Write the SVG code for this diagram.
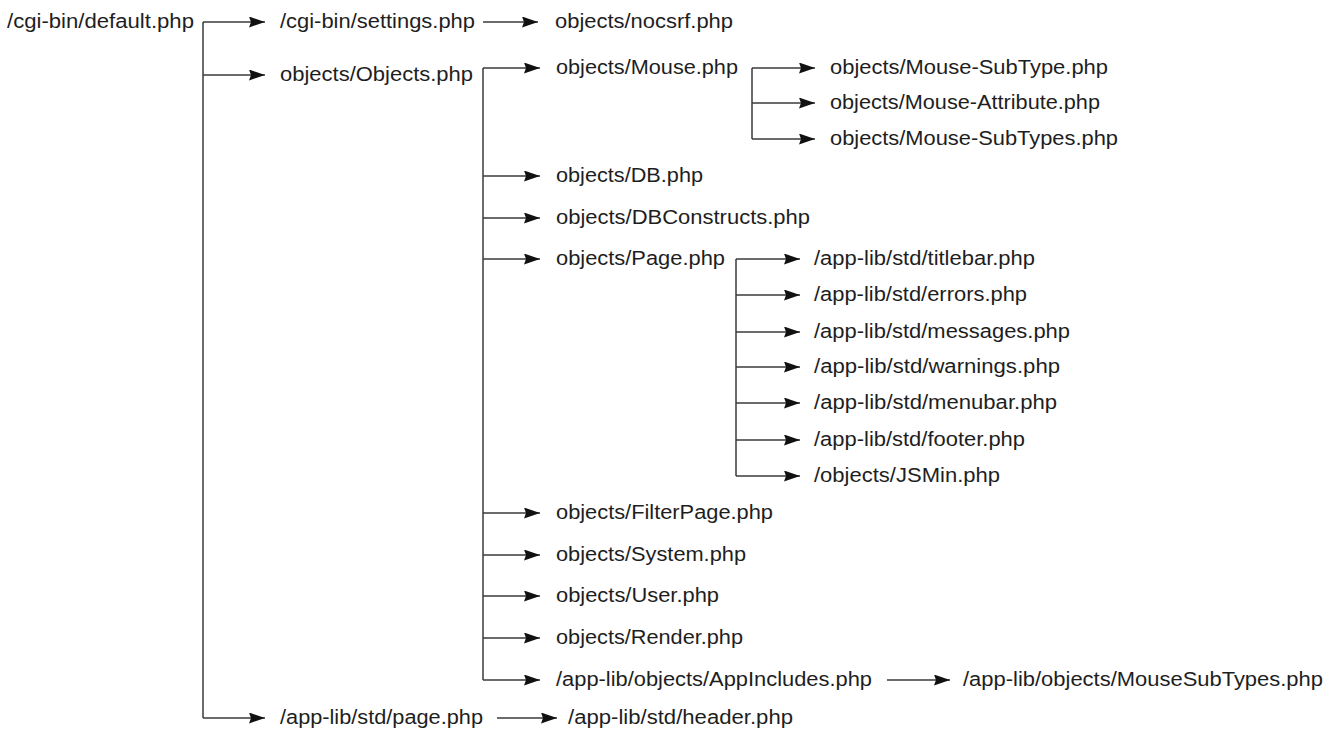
<svg xmlns="http://www.w3.org/2000/svg" width="1339" height="738" viewBox="0 0 1339 738">
<style>
  text { font-family: "Liberation Sans", Arial, sans-serif; font-size: 20px; fill: #1e1e1e; }
  .c { fill: none; stroke: #3a3a3a; stroke-width: 1.5; }
  .a { fill: none; stroke: #3a3a3a; stroke-width: 1.5; marker-end: url(#ah); }
</style>
<defs>
  <marker id="ah" markerUnits="userSpaceOnUse" markerWidth="17" markerHeight="12" refX="16" refY="5.5" orient="auto">
    <path d="M0,0 L16,5.5 L0,11 L2,5.5 Z" fill="#111"/>
  </marker>
</defs>
<rect width="1339" height="738" fill="#fff"/>
<g id="connectors">
  <path class="c" d="M203,22 V718"/>
  <path class="a" d="M203,22 H265"/>
  <path class="a" d="M203,75 H265"/>
  <path class="a" d="M203,718 H265"/>
  <path class="a" d="M483,22 H538"/>
  <path class="c" d="M483,68 V680"/>
  <path class="a" d="M483,68 H540"/>
  <path class="a" d="M483,176 H540"/>
  <path class="a" d="M483,218 H540"/>
  <path class="a" d="M483,259 H540"/>
  <path class="a" d="M483,513 H540"/>
  <path class="a" d="M483,555 H540"/>
  <path class="a" d="M483,596 H540"/>
  <path class="a" d="M483,638 H540"/>
  <path class="a" d="M483,680 H540"/>
  <path class="c" d="M752,68 V139"/>
  <path class="a" d="M752,68 H815"/>
  <path class="a" d="M752,103 H815"/>
  <path class="a" d="M752,139 H815"/>
  <path class="c" d="M736,259 V476"/>
  <path class="a" d="M736,259 H800"/>
  <path class="a" d="M736,295 H800"/>
  <path class="a" d="M736,332 H800"/>
  <path class="a" d="M736,367 H800"/>
  <path class="a" d="M736,403 H800"/>
  <path class="a" d="M736,440 H800"/>
  <path class="a" d="M736,476 H800"/>
  <path class="a" d="M887,680 H950"/>
  <path class="a" d="M497,718 H557"/>
</g>
<g id="n-default"><text x="7" y="28" textLength="187" lengthAdjust="spacingAndGlyphs">/cgi-bin/default.php</text></g>
<g id="n-settings"><text x="280" y="28" textLength="195" lengthAdjust="spacingAndGlyphs">/cgi-bin/settings.php</text></g>
<g id="n-nocsrf"><text x="555" y="28" textLength="178" lengthAdjust="spacingAndGlyphs">objects/nocsrf.php</text></g>
<g id="n-objects"><text x="280" y="81" textLength="193" lengthAdjust="spacingAndGlyphs">objects/Objects.php</text></g>
<g id="n-mouse"><text x="556" y="74" textLength="182" lengthAdjust="spacingAndGlyphs">objects/Mouse.php</text></g>
<g id="n-mouse-subtype"><text x="830" y="74" textLength="278" lengthAdjust="spacingAndGlyphs">objects/Mouse-SubType.php</text></g>
<g id="n-mouse-attribute"><text x="830" y="109" textLength="270" lengthAdjust="spacingAndGlyphs">objects/Mouse-Attribute.php</text></g>
<g id="n-mouse-subtypes"><text x="830" y="145" textLength="288" lengthAdjust="spacingAndGlyphs">objects/Mouse-SubTypes.php</text></g>
<g id="n-db"><text x="556" y="182" textLength="147" lengthAdjust="spacingAndGlyphs">objects/DB.php</text></g>
<g id="n-dbconstructs"><text x="556" y="224" textLength="254" lengthAdjust="spacingAndGlyphs">objects/DBConstructs.php</text></g>
<g id="n-page"><text x="556" y="265" textLength="169" lengthAdjust="spacingAndGlyphs">objects/Page.php</text></g>
<g id="n-titlebar"><text x="814" y="265" textLength="221" lengthAdjust="spacingAndGlyphs">/app-lib/std/titlebar.php</text></g>
<g id="n-errors"><text x="814" y="301" textLength="213" lengthAdjust="spacingAndGlyphs">/app-lib/std/errors.php</text></g>
<g id="n-messages"><text x="814" y="338" textLength="256" lengthAdjust="spacingAndGlyphs">/app-lib/std/messages.php</text></g>
<g id="n-warnings"><text x="814" y="373" textLength="246" lengthAdjust="spacingAndGlyphs">/app-lib/std/warnings.php</text></g>
<g id="n-menubar"><text x="814" y="409" textLength="243" lengthAdjust="spacingAndGlyphs">/app-lib/std/menubar.php</text></g>
<g id="n-footer"><text x="814" y="446" textLength="211" lengthAdjust="spacingAndGlyphs">/app-lib/std/footer.php</text></g>
<g id="n-jsmin"><text x="814" y="482" textLength="186" lengthAdjust="spacingAndGlyphs">/objects/JSMin.php</text></g>
<g id="n-filterpage"><text x="556" y="519" textLength="217" lengthAdjust="spacingAndGlyphs">objects/FilterPage.php</text></g>
<g id="n-system"><text x="556" y="561" textLength="190" lengthAdjust="spacingAndGlyphs">objects/System.php</text></g>
<g id="n-user"><text x="556" y="602" textLength="163" lengthAdjust="spacingAndGlyphs">objects/User.php</text></g>
<g id="n-render"><text x="556" y="644" textLength="187" lengthAdjust="spacingAndGlyphs">objects/Render.php</text></g>
<g id="n-appincludes"><text x="556" y="686" textLength="316" lengthAdjust="spacingAndGlyphs">/app-lib/objects/AppIncludes.php</text></g>
<g id="n-mousesubtypes"><text x="963" y="686" textLength="360" lengthAdjust="spacingAndGlyphs">/app-lib/objects/MouseSubTypes.php</text></g>
<g id="n-stdpage"><text x="280" y="724" textLength="203" lengthAdjust="spacingAndGlyphs">/app-lib/std/page.php</text></g>
<g id="n-header"><text x="568" y="724" textLength="225" lengthAdjust="spacingAndGlyphs">/app-lib/std/header.php</text></g>
</svg>
